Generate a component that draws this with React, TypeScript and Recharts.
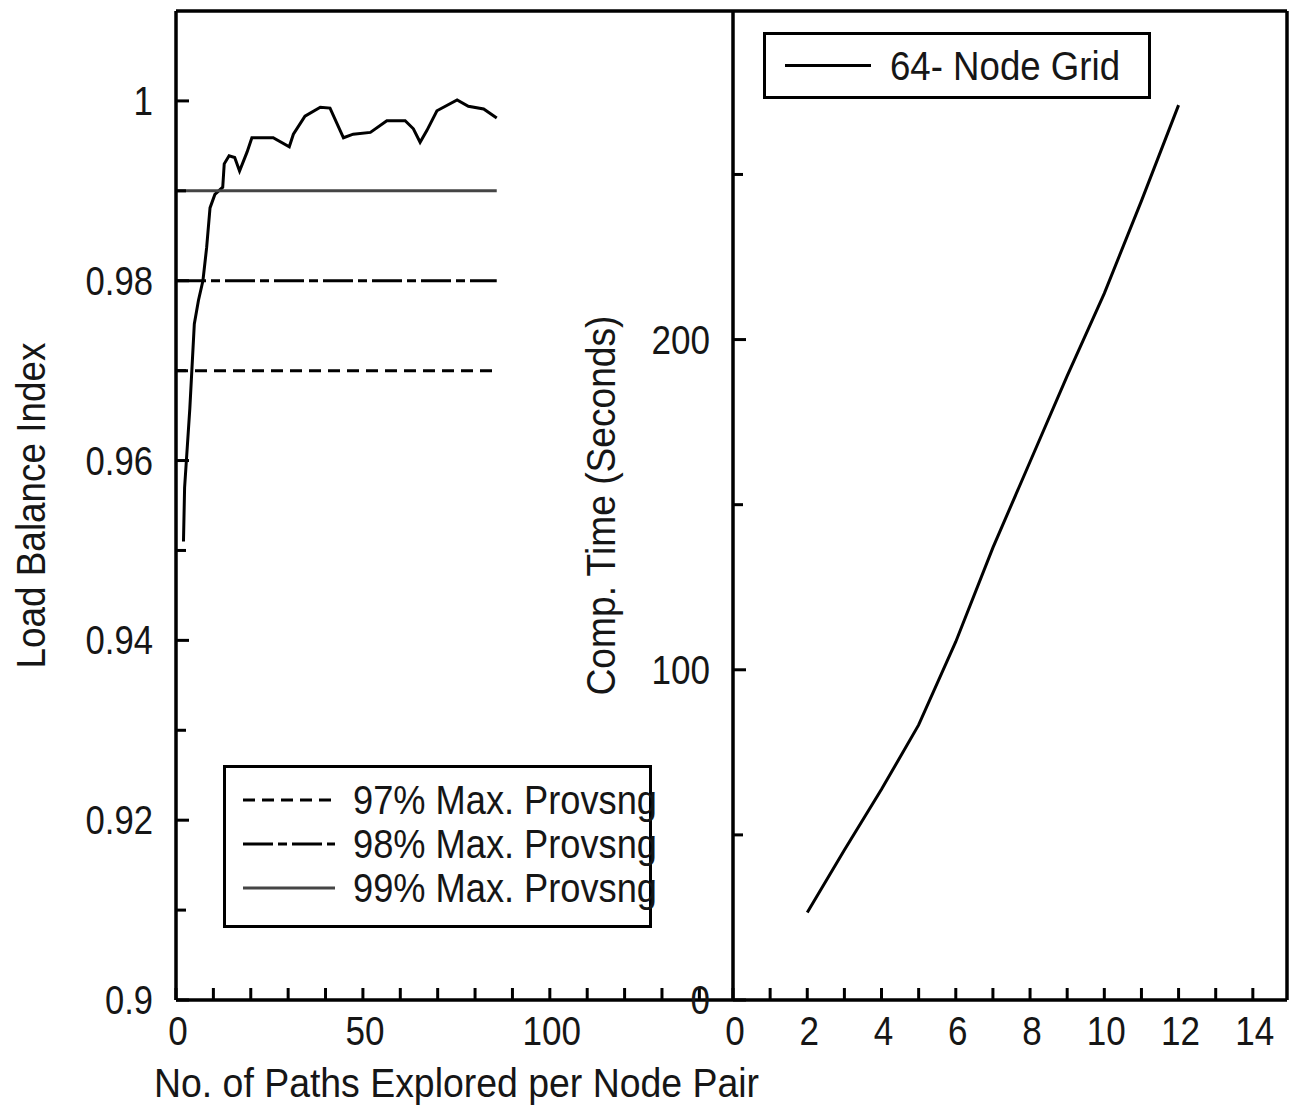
import React from 'react';
import { LineChart, Line, XAxis, YAxis, Legend } from 'recharts';

// left panel: load balance index vs. paths explored
const pathsExplored = [2, 2.3, 3.7, 4.9, 6.0, 7.2, 8.2, 9.1, 10.4, 12.5, 12.9, 14.2, 15.7, 17.0, 19.0, 20.3, 26.0, 30.3, 31.4, 34.5, 38.6, 41.2, 44.8, 47.4, 52.0, 56.4, 61.3, 63.5, 65.3, 67.1, 69.8, 75.2, 78.2, 82.3, 85.8];
const loadBalanceIndex = [0.951, 0.957, 0.9658, 0.9752, 0.9778, 0.98, 0.9837, 0.9881, 0.9896, 0.9904, 0.993, 0.9939, 0.9937, 0.9922, 0.9943, 0.9959, 0.9959, 0.9949, 0.9963, 0.9983, 0.9993, 0.9992, 0.9959, 0.9963, 0.9965, 0.9978, 0.9978, 0.9969, 0.9954, 0.9967, 0.9989, 1.0001, 0.9994, 0.9991, 0.9981];

const thresholdNames = ['97% Max. Provsng', '98% Max. Provsng', '99% Max. Provsng'];
const thresholdValues = [0.97, 0.98, 0.99];
const thresholdSpan = [0, 85.8];

const pathTicks = [0, 10, 20, 30, 40, 50, 60, 70, 80, 90, 100, 110, 120, 130, 140];
const pathLabels = [0, 50, 100];
const loadTicks = [0.9, 0.91, 0.92, 0.93, 0.94, 0.95, 0.96, 0.97, 0.98, 0.99, 1];
const loadLabels = [0.9, 0.92, 0.94, 0.96, 0.98, 1];

// right panel: computation time vs. grid size
const gridX = [2, 3, 4, 5, 6, 7, 8, 9, 10, 11, 12];
const compTime = [26.5, 45.4, 63.8, 83.3, 108.5, 137, 163, 189, 214, 242, 271];
const gridName = '64- Node Grid';

const gridTicks = [0, 1, 2, 3, 4, 5, 6, 7, 8, 9, 10, 11, 12, 13, 14];
const gridLabels = [0, 2, 4, 6, 8, 10, 12, 14];
const timeTicks = [0, 50, 100, 150, 200, 250];
const timeLabels = [0, 100, 200];

const FONT = "'Liberation Sans', Arial, sans-serif";
const INK = '#161616';
const AXIS = { stroke: '#000', strokeWidth: 3.5 };
const thresholdDash = ['12 7', '30 5 9 5', undefined];
const thresholdColor = ['#000', '#000', '#454545'];

const loadData = pathsExplored.map((x, i) => ({ x, y: loadBalanceIndex[i] }));
const timeData = gridX.map((x, i) => ({ x, y: compTime[i] }));
const thresholdData = (v: number) => thresholdSpan.map((x) => ({ x, y: v }));

// narrow-looking numerals: fixed advance per glyph
const labelWidth = (s: string) => s.split('').reduce((w, c) => w + (c === '.' ? 9 : 19.5), 0);

const isMajor = (labels: number[], v: number) => labels.some((l) => Math.abs(l - v) < 1e-9);

const makeTick = (side: 'left' | 'right' | 'bottom', labels: number[]) => (props: any) => {
  const { x, y, payload } = props;
  const v = payload.value;
  const major = isMajor(labels, v);
  const s = String(v);
  const txt = (tx: number, ty: number, anchor: string) => (
    <text x={tx} y={ty} textAnchor={anchor} dominantBaseline="central" fontFamily={FONT} fontSize={41}
      fill={INK} textLength={labelWidth(s)} lengthAdjust="spacingAndGlyphs">{s}</text>
  );
  if (side === 'left') {
    return (
      <g>
        <line x1={x} y1={y} x2={x + (major ? 13 : 10)} y2={y} stroke="#000" strokeWidth={3} />
        {major && txt(x - 23, y, 'end')}
      </g>
    );
  }
  if (side === 'right') {
    return <line x1={x} y1={y} x2={x - (major ? 13 : 10)} y2={y} stroke="#000" strokeWidth={3} />;
  }
  return (
    <g>
      <line x1={x} y1={y} x2={x} y2={y - 12} stroke="#000" strokeWidth={3} />
      {major && txt(x + 2, y + 31, 'middle')}
    </g>
  );
};

const yTitle = (text: string, dx: number, len: number) => (props: any) => {
  const vb = props.viewBox || { x: 0, y: 11, width: 0, height: 989 };
  const cx = vb.x + dx;
  const cy = vb.y + vb.height / 2;
  return (
    <text x={cx} y={cy} transform={`rotate(-90 ${cx} ${cy})`} textAnchor="middle" dominantBaseline="central"
      fontFamily={FONT} fontSize={40} fill={INK} textLength={len} lengthAdjust="spacingAndGlyphs">{text}</text>
  );
};

const xTitle = (text: string, len: number) => (props: any) => {
  const vb = props.viewBox || { x: 176, y: 1000, width: 557, height: 107 };
  const cx = vb.x + vb.width / 2 + 2;
  const cy = vb.y + 83;
  return (
    <text x={cx} y={cy} textAnchor="middle" dominantBaseline="central" fontFamily={FONT} fontSize={40}
      fill={INK} textLength={len} lengthAdjust="spacingAndGlyphs">{text}</text>
  );
};

const legendBox = (rowH: number, padTop: number, lineFrom: number, lineTo: number, textX: number, textLen: number) =>
  (props: any) => (
    <div style={{ width: '100%', height: '100%', boxSizing: 'border-box', border: '3px solid #000', background: '#fff', paddingTop: padTop }}>
      {(props.payload || []).filter((entry: any) => entry.type !== 'none').map((entry: any) => (
        <svg key={entry.value} width="100%" height={rowH} style={{ display: 'block', overflow: 'visible' }}>
          <line x1={lineFrom} x2={lineTo} y1={rowH / 2} y2={rowH / 2} stroke={entry.color}
            strokeWidth={entry.payload?.strokeWidth ?? 3} strokeDasharray={entry.payload?.strokeDasharray} />
          <text x={textX} y={rowH / 2} dominantBaseline="central" fontFamily={FONT} fontSize={41} fill={INK}
            textLength={textLen} lengthAdjust="spacingAndGlyphs">{entry.value}</text>
        </svg>
      ))}
    </div>
  );

const App: React.FC = () => {
  return (
    <div style={{ position: 'absolute', left: 0, top: 0, width: 1290, height: 1107, background: '#fff', overflow: 'hidden' }}>
      <div style={{ position: 'absolute', left: 0, top: 0 }}>
        <LineChart width={800} height={1107} margin={{ top: 10, right: 67, bottom: 0, left: 0 }}>
          <XAxis type="number" dataKey="x" domain={[0, 149]} allowDataOverflow ticks={pathTicks} interval={0}
            height={107} axisLine={AXIS} tickLine={false} tickSize={0} tickMargin={0}
            tick={makeTick('bottom', pathLabels)} label={xTitle('No. of Paths Explored per Node Pair', 605)} />
          <XAxis xAxisId="top" orientation="top" type="number" domain={[0, 149]} height={1}
            axisLine={AXIS} tick={false} tickLine={false} />
          <YAxis type="number" domain={[0.9, 1.01]} allowDataOverflow ticks={loadTicks} interval={0}
            width={176} axisLine={AXIS} tickLine={false} tickSize={0} tickMargin={0}
            tick={makeTick('left', loadLabels)} label={yTitle('Load Balance Index', 31, 326)} />
          <Legend layout="horizontal" verticalAlign="middle" align="center"
            wrapperStyle={{ left: 223, top: 765, width: 429, height: 163 }}
            content={legendBox(44, 10, 17, 109, 127, 304)} />
          <Line data={loadData} dataKey="y" stroke="#000" strokeWidth={3} dot={false} legendType="none"
            name="Load Balance" isAnimationActive={false} />
          {thresholdValues.map((v, i) => (
            <Line key={thresholdNames[i]} data={thresholdData(v)} dataKey="y" name={thresholdNames[i]}
              stroke={thresholdColor[i]} strokeWidth={3} strokeDasharray={thresholdDash[i]}
              dot={false} isAnimationActive={false} />
          ))}
        </LineChart>
      </div>
      <div style={{ position: 'absolute', left: 560, top: 0 }}>
        <LineChart width={730} height={1107} margin={{ top: 10, right: 0, bottom: 0, left: 0 }}>
          <XAxis type="number" dataKey="x" domain={[0, 14.92]} allowDataOverflow ticks={gridTicks} interval={0}
            height={107} axisLine={AXIS} tickLine={false} tickSize={0} tickMargin={0}
            tick={makeTick('bottom', gridLabels)} />
          <XAxis xAxisId="top" orientation="top" type="number" domain={[0, 14.92]} height={1}
            axisLine={AXIS} tick={false} tickLine={false} />
          <YAxis type="number" domain={[0, 299.5]} allowDataOverflow ticks={timeTicks} interval={0}
            width={173} axisLine={AXIS} tickLine={false} tickSize={0} tickMargin={0}
            tick={makeTick('left', timeLabels)} label={yTitle('Comp. Time (Seconds)', 41, 380)} />
          <YAxis yAxisId="r" orientation="right" type="number" domain={[0, 299.5]} ticks={timeTicks} interval={0}
            width={3} axisLine={AXIS} tickLine={false} tickSize={0} tickMargin={0}
            tick={makeTick('right', timeLabels)} />
          <Legend layout="horizontal" verticalAlign="middle" align="center"
            wrapperStyle={{ left: 203, top: 32, width: 388, height: 67 }}
            content={legendBox(61, 0, 19, 105, 124, 230)} />
          <Line data={timeData} dataKey="y" name={gridName} stroke="#000" strokeWidth={3} dot={false}
            isAnimationActive={false} />
        </LineChart>
      </div>
    </div>
  );
};

export default App;
